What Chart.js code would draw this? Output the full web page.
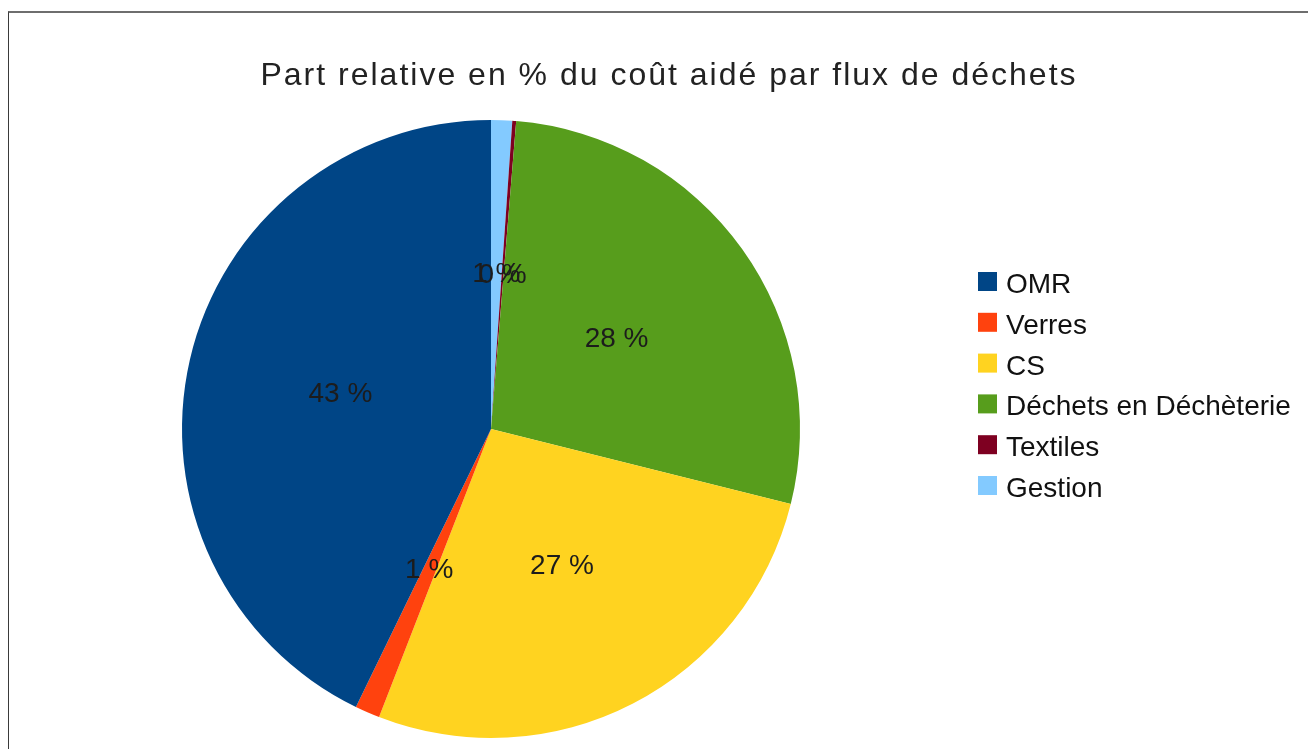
<!DOCTYPE html>
<html>
<head>
<meta charset="utf-8">
<title>Part relative en % du coût aidé par flux de déchets</title>
<script src="https://cdn.jsdelivr.net/npm/chart.js"></script>
<style>
  body { margin: 0; background: #fff; }
  #wrap { position: relative; width: 1308px; height: 749px; overflow: hidden; }
  #frame { position: absolute; left: 8px; top: 11px; right: -5px; bottom: -5px; border-top: 2px solid #6e6e6e; border-left: 1px solid #3a3a3a; }
  canvas { position: absolute; left: 0; top: 0; }
</style>
</head>
<body>
<div id="wrap">
  <div id="frame"></div>
  <canvas id="pie-chart" width="1308" height="749"></canvas>
</div>
<script>
const chartTitle = 'Part relative en % du coût aidé par flux de déchets';
const categories = ['OMR', 'Verres', 'CS', 'Déchets en Déchèterie', 'Textiles', 'Gestion'];
const shares = [42.8, 1.3, 27.0, 27.6, 0.2, 1.1];
const colors = ['#004586', '#ff420e', '#ffd320', '#579d1c', '#7e0021', '#83caff'];

const FONT = '"Liberation Sans", Arial, sans-serif';

// LibreOffice draws the slices counter-clockwise, Chart.js clockwise,
// so the dataset is fed in reverse order
const drawOrder = categories.map((c, i) => i).reverse();

const sliceLabels = {
  id: 'sliceLabels',
  afterDatasetsDraw(chart) {
    const ctx = chart.ctx;
    const meta = chart.getDatasetMeta(0);
    const data = chart.data.datasets[0].data;
    const total = data.reduce((a, b) => a + b, 0);
    ctx.save();
    ctx.font = '28px ' + FONT;
    ctx.fillStyle = '#1c1c1c';
    ctx.textAlign = 'center';
    ctx.textBaseline = 'middle';
    meta.data.forEach((arc, i) => {
      const p = arc.getCenterPoint();
      ctx.fillText(Math.round(data[i] / total * 100) + ' %', p.x, p.y);
    });
    ctx.restore();
  }
};

const titleAndLegend = {
  id: 'titleAndLegend',
  afterDraw(chart) {
    const ctx = chart.ctx;
    ctx.save();
    ctx.fillStyle = '#222';
    ctx.font = '32px ' + FONT;
    ctx.letterSpacing = '2px';
    ctx.textAlign = 'center';
    ctx.textBaseline = 'alphabetic';
    ctx.fillText(chartTitle, 669, 85);

    ctx.letterSpacing = '0px';
    ctx.font = '28px ' + FONT;
    ctx.textAlign = 'left';
    categories.forEach((c, i) => {
      const base = 293 + i * 40.8;
      ctx.fillStyle = colors[i];
      ctx.fillRect(978, base - 21, 19, 19);
      ctx.fillStyle = '#111';
      ctx.fillText(c, 1006, base);
    });
    ctx.restore();
  }
};

const data = {
  labels: drawOrder.map(i => categories[i]),
  datasets: [{
    data: drawOrder.map(i => shares[i]),
    backgroundColor: drawOrder.map(i => colors[i]),
    borderWidth: 0
  }]
};

const config = {
  type: 'pie',
  data: data,
  options: {
    responsive: false,
    animation: false,
    devicePixelRatio: 1,
    layout: {
      padding: { top: 120, bottom: 11, left: 20, right: 346 }
    },
    plugins: {
      legend: { display: false },
      title: { display: false },
      tooltip: { enabled: false }
    }
  },
  plugins: [sliceLabels, titleAndLegend]
};

const pieChart = new Chart(document.getElementById('pie-chart'), config);
</script>
</body>
</html>
